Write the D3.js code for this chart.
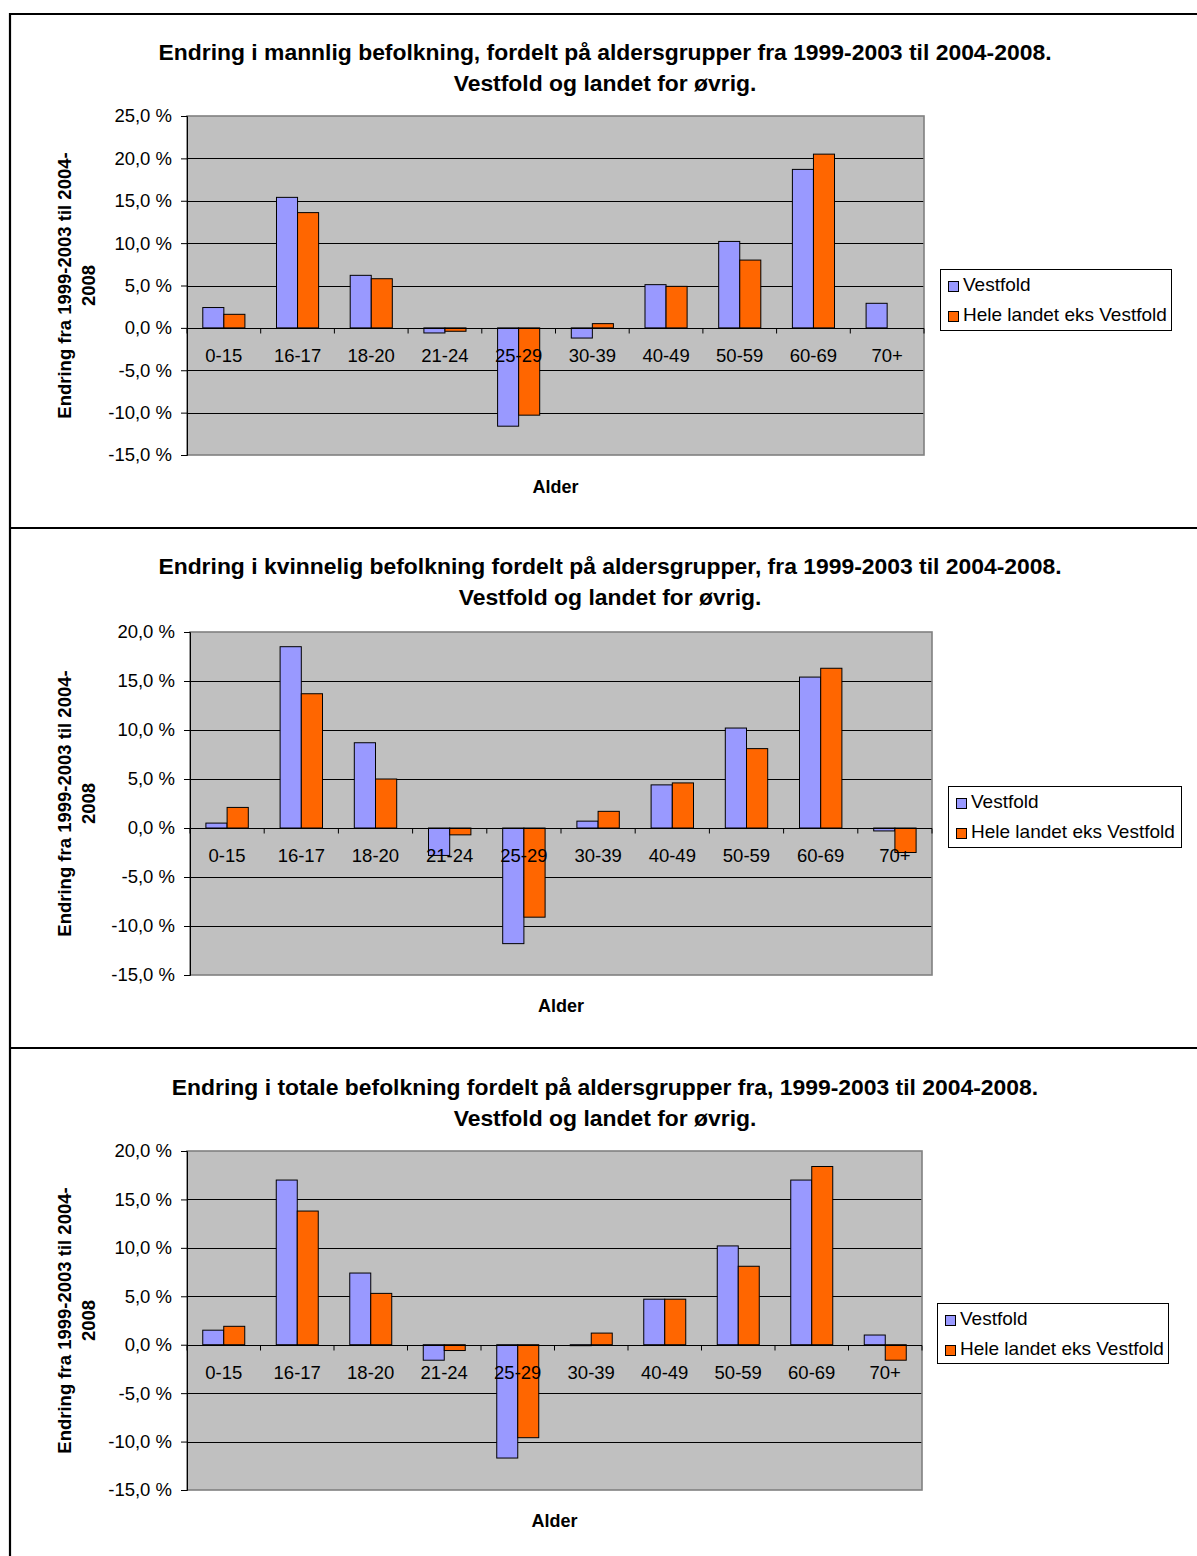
<!DOCTYPE html>
<html><head><meta charset="utf-8">
<script src="https://cdn.jsdelivr.net/npm/d3@7"></script>
<style>
body{margin:0;background:#fff}
svg{display:block}
text{font-family:"Liberation Sans",Arial,sans-serif;fill:#000}
</style>
</head><body>
<svg id="c" width="1197" height="1556"></svg>
<script>
// ---- data ----
const categories = ["0-15","16-17","18-20","21-24","25-29","30-39","40-49","50-59","60-69","70+"];
const seriesNames = ["Vestfold","Hele landet eks Vestfold"];
const maleVestfold   = [2.4, 15.4, 6.2, -0.6, -11.6, -1.2, 5.1, 10.2, 18.7, 2.9];
const maleRest       = [1.6, 13.6, 5.8, -0.4, -10.3,  0.5, 4.9,  8.0, 20.5, null];
const femaleVestfold = [0.5, 18.5, 8.7, -2.8, -11.8,  0.7, 4.4, 10.2, 15.4, -0.3];
const femaleRest     = [2.1, 13.7, 5.0, -0.7,  -9.1,  1.7, 4.6,  8.1, 16.3, -2.5];
const totalVestfold  = [1.5, 17.0, 7.4, -1.6, -11.7, -0.1, 4.7, 10.2, 17.0, 1.0];
const totalRest      = [1.9, 13.8, 5.3, -0.6,  -9.6,  1.2, 4.7,  8.1, 18.4, -1.6];
const yTicksMale   = [25, 20, 15, 10, 5, 0, -5, -10, -15];
const yTicksFemale = [20, 15, 10, 5, 0, -5, -10, -15];
const yTicksTotal  = [20, 15, 10, 5, 0, -5, -10, -15];
const titleMale   = ["Endring i mannlig befolkning, fordelt på aldersgrupper fra 1999-2003 til 2004-2008.", "Vestfold og landet for øvrig."];
const titleFemale = ["Endring i kvinnelig befolkning fordelt på aldersgrupper, fra 1999-2003 til 2004-2008.", "Vestfold og landet for øvrig."];
const titleTotal  = ["Endring i totale befolkning fordelt på aldersgrupper fra, 1999-2003 til 2004-2008.", "Vestfold og landet for øvrig."];
const yAxisTitle = ["Endring fra 1999-2003 til 2004-", "2008"];
const xAxisTitle = "Alder";
const seriesColors = ["#9999FF", "#FF6600"];

// ---- layout ----
const charts = [
  {title: titleMale, series: [maleVestfold, maleRest], ticks: yTicksMale,
   plot: {x0: 187, x1: 924, y0: 116, y1: 455}, titleY: 60, titleX: 605, alderY: 493,
   legend: {x: 940, y: 269, w: 231, h: 61}},
  {title: titleFemale, series: [femaleVestfold, femaleRest], ticks: yTicksFemale,
   plot: {x0: 190, x1: 932, y0: 632, y1: 975}, titleY: 574, titleX: 610, alderY: 1012,
   legend: {x: 948, y: 786, w: 233, h: 61}},
  {title: titleTotal, series: [totalVestfold, totalRest], ticks: yTicksTotal,
   plot: {x0: 187, x1: 922, y0: 1151, y1: 1490}, titleY: 1095, titleX: 605, alderY: 1527,
   legend: {x: 937, y: 1303, w: 231, h: 60}}
];

const svg = d3.select("#c");
const loc = d3.formatLocale({decimal: ",", thousands: " ", grouping: [3], currency: ["", ""], minus: "-"});
const fmt = v => loc.format(".1f")(v) + " %";

// frames
const frame = svg.append("g").attr("stroke", "#000").attr("stroke-width", 2.2);
[14, 528, 1048].forEach(y => frame.append("line").attr("x1", 9).attr("x2", 1197).attr("y1", y).attr("y2", y));
frame.append("line").attr("x1", 10).attr("x2", 10).attr("y1", 13).attr("y2", 1556);

charts.forEach(cfg => {
  const g = svg.append("g");
  const p = cfg.plot;
  const y = d3.scaleLinear().domain([d3.min(cfg.ticks), d3.max(cfg.ticks)]).range([p.y1, p.y0]);
  const x = d3.scaleBand().domain(categories).range([p.x0, p.x1]).paddingInner(1.5 / 3.5).paddingOuter(0.75 / 3.5);
  const xs = d3.scaleBand().domain(d3.range(cfg.series.length)).range([0, x.bandwidth()]);

  // plot background
  g.append("rect").attr("x", p.x0).attr("y", p.y0).attr("width", p.x1 - p.x0).attr("height", p.y1 - p.y0)
    .attr("fill", "#C0C0C0");
  // gridlines
  g.append("g").selectAll("line").data(cfg.ticks.filter(t => t !== d3.max(cfg.ticks) && t !== d3.min(cfg.ticks)))
    .join("line").attr("x1", p.x0).attr("x2", p.x1).attr("y1", d => Math.round(y(d)) + 0.5).attr("y2", d => Math.round(y(d)) + 0.5)
    .attr("stroke", "#000").attr("stroke-width", 1);
  // border
  g.append("rect").attr("x", p.x0).attr("y", p.y0).attr("width", p.x1 - p.x0).attr("height", p.y1 - p.y0)
    .attr("fill", "none").attr("stroke", "#808080").attr("stroke-width", 1.6);

  // bars
  cfg.series.forEach((vals, si) => {
    g.append("g").selectAll("rect").data(vals.map((v, i) => ({c: categories[i], v})).filter(d => d.v !== null))
      .join("rect")
      .attr("x", d => x(d.c) + xs(si))
      .attr("width", xs.bandwidth())
      .attr("y", d => y(Math.max(0, d.v)))
      .attr("height", d => Math.abs(y(d.v) - y(0)))
      .attr("fill", seriesColors[si])
      .attr("stroke", "#000").attr("stroke-width", 1);
  });

  // y axis
  const ya = g.append("g").attr("transform", `translate(${p.x0},0)`)
    .call(d3.axisLeft(y).tickValues(cfg.ticks).tickFormat(fmt).tickSize(6).tickPadding(9));
  ya.select(".domain").attr("stroke", "#000");
  ya.selectAll(".tick line").attr("stroke", "#000");
  ya.selectAll(".tick text").attr("font-size", "18.5px").attr("font-family", "Liberation Sans, Arial, sans-serif").attr("fill", "#000");

  // x axis at zero (ticks downward at category boundaries)
  const step = x.step();
  const y0 = Math.round(y(0)) + 0.5;
  g.append("line").attr("x1", p.x0).attr("x2", p.x1).attr("y1", y0).attr("y2", y0).attr("stroke", "#000");
  g.append("g").selectAll("line").data(d3.range(categories.length + 1)).join("line")
    .attr("x1", i => p.x0 + i * step).attr("x2", i => p.x0 + i * step)
    .attr("y1", y0).attr("y2", y0 + 5).attr("stroke", "#000");
  g.append("g").selectAll("text").data(categories).join("text")
    .attr("x", d => x(d) + x.bandwidth() / 2).attr("y", y(0) + 34)
    .attr("text-anchor", "middle").attr("font-size", "18.5px").text(d => d);

  // titles
  g.selectAll("text.t").data(cfg.title).join("text").attr("class", "t")
    .attr("x", cfg.titleX).attr("y", (d, i) => cfg.titleY + i * 30.5)
    .attr("text-anchor", "middle").attr("font-size", "22.9px").attr("font-weight", "bold").text(d => d);

  // axis titles
  g.append("text").attr("x", (p.x0 + p.x1) / 2).attr("y", cfg.alderY).attr("text-anchor", "middle")
    .attr("font-size", "18px").attr("font-weight", "bold").text(xAxisTitle);
  const cy = (p.y0 + p.y1) / 2;
  yAxisTitle.forEach((t, i) => {
    g.append("text").attr("transform", `translate(${71 + i * 24},${cy}) rotate(-90)`)
      .attr("text-anchor", "middle").attr("font-size", "18.5px").attr("font-weight", "bold").text(t);
  });

  // legend
  const L = cfg.legend;
  const lg = g.append("g");
  lg.append("rect").attr("x", L.x + 0.5).attr("y", L.y + 0.5).attr("width", L.w).attr("height", L.h)
    .attr("fill", "#fff").attr("stroke", "#000").attr("stroke-width", 1);
  seriesNames.forEach((n, i) => {
    lg.append("rect").attr("x", L.x + 8.5).attr("y", L.y + 12.5 + i * 30).attr("width", 10).attr("height", 10)
      .attr("fill", seriesColors[i]).attr("stroke", "#000").attr("stroke-width", 1);
    lg.append("text").attr("x", L.x + 23).attr("y", L.y + 22 + i * 30).attr("font-size", "19px").text(n);
  });
});
</script>
</body></html>
